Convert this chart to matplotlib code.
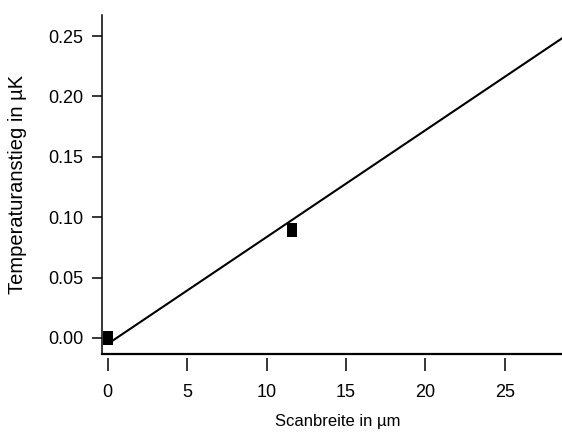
import matplotlib
matplotlib.use("Agg")
import matplotlib.pyplot as plt
from matplotlib.path import Path

# measured points (scan width in um, temperature rise in uK)
scan_width = [0.0, 11.6]
temp_rise = [0.0, 0.089]

# linear fit line
fit_x = [0.0, 29.0]
fit_y = [-0.005, 0.2517]

x_ticks = [0, 5, 10, 15, 20, 25]
y_ticks = [0.00, 0.05, 0.10, 0.15, 0.20, 0.25]

plt.rcParams["font.family"] = ["Liberation Sans", "DejaVu Sans"]

fig = plt.figure(figsize=(5.62, 4.40), dpi=100)
ax = fig.add_axes([0.181, 0.195, 0.819, 0.771])

# tall rectangle marker
rect = Path([(-0.34, -0.5), (0.34, -0.5), (0.34, 0.5), (-0.34, 0.5), (-0.34, -0.5)],
            [Path.MOVETO, Path.LINETO, Path.LINETO, Path.LINETO, Path.CLOSEPOLY])

ax.plot(fit_x, fit_y, color="black", lw=1.5, solid_capstyle="butt")
ax.plot(scan_width, temp_rise, ls="none", marker=rect, ms=10, color="black", mew=0, clip_on=False)

ax.set_xlim(-0.38, 28.6)
ax.set_ylim(-0.0135, 0.2675)
ax.set_xticks(x_ticks)
ax.set_yticks(y_ticks)
ax.set_yticklabels([f"{v:.2f}" for v in y_ticks])

ax.spines["top"].set_visible(False)
ax.spines["right"].set_visible(False)
ax.spines["left"].set_linewidth(1.1)
# x ticks stand off from the axis line
ax.spines["bottom"].set_position(("outward", 3))
ax.spines["bottom"].set_visible(False)
ax.plot([0, 1], [0, 0], transform=ax.transAxes, color="black", lw=1.6, clip_on=False)

ax.tick_params(axis="x", direction="out", length=9.5, width=1.1, pad=9, labelsize=13)
ax.tick_params(axis="y", direction="out", length=7, width=1.1, pad=6, labelsize=13)

ax.set_xlabel("Scanbreite in µm", fontsize=12)
ax.set_ylabel("Temperaturanstieg in µK", fontsize=14.5)
ax.xaxis.set_label_coords(0.513, -0.175)
ax.yaxis.set_label_coords(-0.163, 0.5)

fig.savefig("out.png", dpi=100)
